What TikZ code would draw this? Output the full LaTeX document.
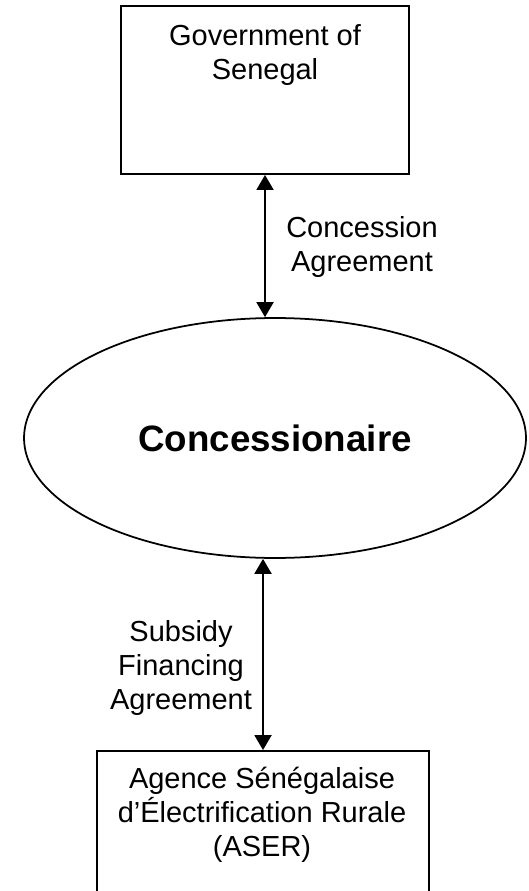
\documentclass[tikz,border=0pt]{standalone}
\usepackage{fontspec}
\setmainfont{Liberation Sans}
\usetikzlibrary{arrows.meta, shapes.geometric}

\begin{document}
\begin{tikzpicture}[
    x=0.02cm, y=-0.02cm,
    box/.style={draw=black, line width=1.1pt, rectangle, inner sep=0pt},
    txt/.style={align=center, inner sep=0pt, font=\fontsize{16.5}{19.4}\selectfont},
    arr/.style={{Triangle[length=0.3cm, width=0.34cm]}-{Triangle[length=0.3cm, width=0.34cm]}, line width=1.1pt},
  ]
  \useasboundingbox (0,0) rectangle (528,891);
  \clip (0,0) rectangle (528,891);

  % ── Parties ──────────────────────────────────────────────
  \node[box, minimum width=5.76cm, minimum height=3.36cm] (gov) at (265,90) {};
  \node[txt] (govtxt) at (265,55) {Government of\\Senegal};

  \node[draw=black, line width=1pt, ellipse, inner sep=0pt,
        minimum width=10.04cm, minimum height=4.8cm,
        font=\fontsize{20.9}{24}\selectfont\bfseries] (con) at (275,438) {Concessionaire};

  \node[box, minimum width=6.64cm, minimum height=4cm] (aser) at (263,851) {};
  \node[txt] (asertxt) at (262,815) {Agence Sénégalaise\\d’Électrification Rurale\\(ASER)};

  % ── Agreements ───────────────────────────────────────────
  \draw[arr] (gov.south) -- (con.north -| gov.south);
  \node[txt] (conag) at (362,247) {Concession\\Agreement};

  \draw[arr] (aser.north) -- (con.south -| aser.north);
  \node[txt] (subag) at (181,668) {Subsidy\\Financing\\Agreement};

\end{tikzpicture}
\end{document}
